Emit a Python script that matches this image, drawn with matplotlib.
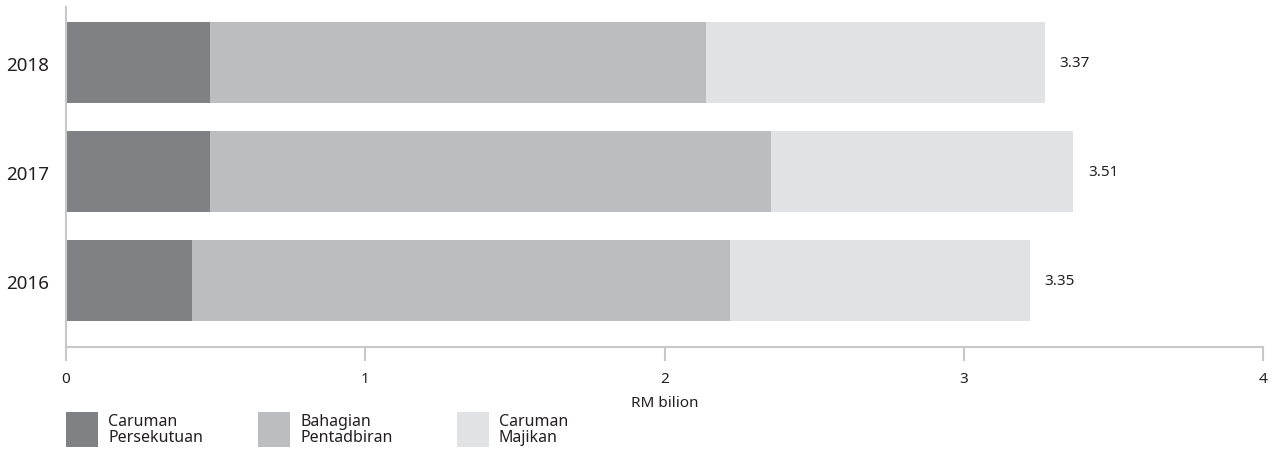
import matplotlib
matplotlib.use("Agg")
import matplotlib.pyplot as plt
from matplotlib.patches import Rectangle
from matplotlib.transforms import offset_copy

plt.rcParams['font.family'] = ['Noto Sans', 'DejaVu Sans']

years = ['2016', '2017', '2018']
persekutuan = [0.42, 0.48, 0.48]
pentadbiran = [1.80, 1.875, 1.66]
majikan = [1.00, 1.01, 1.13]
total_labels = ['3.35', '3.51', '3.37']
series_names = ['Caruman\nPersekutuan', 'Bahagian\nPentadbiran', 'Caruman\nMajikan']
colors = ['#808184', '#bcbdbf', '#e1e2e3']
xticks = [0, 1, 2, 3, 4]

W, H = 1278, 477
fig = plt.figure(figsize=(W / 100, H / 100), dpi=100)
ax = fig.add_axes([66 / W, 1 - 348 / H, (1263 - 66) / W, (348 - 8) / H])

pos = list(range(len(years)))
left = [0] * len(years)
for vals, c in zip([persekutuan, pentadbiran, majikan], colors):
    ax.barh(pos, vals, left=left, height=0.75, color=c, edgecolor='none')
    left = [l + v for l, v in zip(left, vals)]

trans = offset_copy(ax.transData, fig=fig, x=15, y=0, units='dots')
for p, tot, lab in zip(pos, left, total_labels):
    ax.text(tot, p, lab, transform=trans, va='center', ha='left',
            fontsize=11, color='#231f20')

ax.set_xlim(0, 4)
ax.set_ylim(-0.61, 2.51)
ax.set_yticks(pos)
ax.set_yticklabels(years, fontsize=13.5, color='#231f20')
ax.set_xticks(xticks)
ax.set_xticklabels([str(t) for t in xticks], fontsize=11, color='#231f20')
ax.tick_params(axis='y', length=0, pad=12)
ax.tick_params(axis='x', length=10, width=1.5, color='#c8c8c8', pad=7)
for s in ['top', 'right']:
    ax.spines[s].set_visible(False)
for s in ['left', 'bottom']:
    ax.spines[s].set_color('#c8c8c8')
    ax.spines[s].set_linewidth(1.5)
ax.set_xlabel('RM bilion', fontsize=11, color='#231f20', labelpad=7)

# legend
leg_x = [66, 258, 457]
for lx, name, c in zip(leg_x, series_names, colors):
    fig.patches.append(Rectangle((lx / W, 1 - 448 / H), 32 / W, 35 / H,
                                 transform=fig.transFigure, color=c, ec='none'))
    fig.text((lx + 42) / W, 1 - 430 / H, name, fontsize=11.5, color='#231f20',
             va='center', ha='left', linespacing=1.0)

fig.savefig('out.png', dpi=100)
